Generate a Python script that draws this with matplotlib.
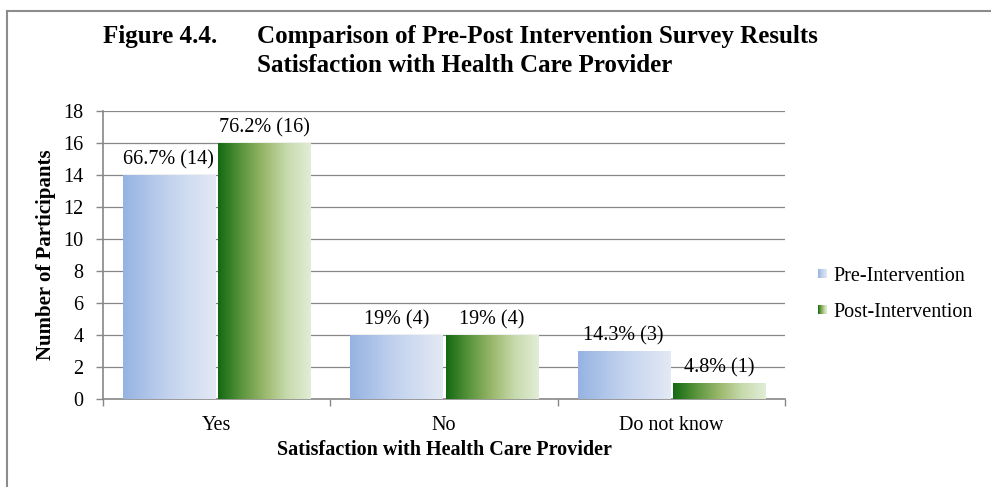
import numpy as np
import matplotlib
matplotlib.use("Agg")
import matplotlib.pyplot as plt
from matplotlib.colors import LinearSegmentedColormap
from matplotlib.lines import Line2D

# Veriler
categories = ["Yes", "No", "Do not know"]
pre_values = [14, 4, 3]
post_values = [16, 4, 1]
pre_labels = ["66.7% (14)", "19% (4)", "14.3% (3)"]
post_labels = ["76.2% (16)", "19% (4)", "4.8% (1)"]
series_names = ["Pre-Intervention", "Post-Intervention"]
y_ticks = [0, 2, 4, 6, 8, 10, 12, 14, 16, 18]

plt.rcParams["font.family"] = ["Liberation Serif", "DejaVu Serif"]

pre_cmap = LinearSegmentedColormap.from_list("pre", ["#95b3e2", "#c3d3ee", "#e3e9f5"])
post_cmap = LinearSegmentedColormap.from_list(
    "post", ["#136913", "#5a953c", "#9bb86c", "#c8dbae", "#e1edd6"])
grad = np.linspace(0, 1, 256).reshape(1, -1)

W, H = 991, 487
fig = plt.figure(figsize=(W / 100, H / 100), dpi=100)
ax = fig.add_axes([103 / W, 1 - 399 / H, 682 / W, 288 / H])

x = np.arange(len(categories))
width = 0.405
bars_pre = ax.bar(x - 0.21, pre_values, width, color="none", zorder=3)
bars_post = ax.bar(x + 0.21, post_values, width, color="none", zorder=3)

# Bar icine gradyan doldur
for bars, cmap in [(bars_pre, pre_cmap), (bars_post, post_cmap)]:
    for r in bars:
        x0, y0 = r.get_x(), r.get_y()
        ax.imshow(grad, cmap=cmap, aspect="auto", zorder=3,
                  extent=[x0, x0 + r.get_width(), y0, y0 + r.get_height()])

# Degerler
for bars, labels in [(bars_pre, pre_labels), (bars_post, post_labels)]:
    for r, lab in zip(bars, labels):
        ax.annotate(lab, (r.get_x() + r.get_width() / 2, r.get_height()),
                    xytext=(0, 4), textcoords="offset points",
                    ha="center", va="bottom", fontsize=14.5, zorder=4)

ax.set_xlim(-0.5, len(categories) - 0.5)
ax.set_ylim(0, 18)
ax.set_yticks(y_ticks)
ax.set_xticks(x)
ax.set_xticklabels(categories)
ax.set_xticks(np.arange(len(categories) + 1) - 0.5, minor=True)
ax.tick_params(axis="x", which="major", length=0, pad=12, labelsize=14.5)
ax.tick_params(axis="x", which="minor", length=5, width=1, color="#878787")
ax.tick_params(axis="y", length=5, width=1, color="#878787", pad=9, labelsize=14.5)

ax.grid(axis="y", color="#878787", linewidth=0.9, zorder=0)
ax.set_axisbelow(True)
for s in ["top", "right"]:
    ax.spines[s].set_visible(False)
for s in ["left", "bottom"]:
    ax.spines[s].set_color("#878787")
    ax.spines[s].set_linewidth(1.2)

ax.set_ylabel("Number of Participants", fontsize=15, fontweight="bold", labelpad=5)
ax.set_xlabel("Satisfaction with Health Care Provider", fontsize=14.5,
              fontweight="bold", labelpad=4)

# Baslik
fig.text(103 / W, 1 - 43 / H, "Figure 4.4.", fontsize=18, fontweight="bold",
         va="baseline", ha="left")
fig.text(257 / W, 1 - 43 / H, "Comparison of Pre-Post Intervention Survey Results",
         fontsize=18, fontweight="bold", va="baseline", ha="left")
fig.text(257 / W, 1 - 72 / H, "Satisfaction with Health Care Provider",
         fontsize=18, fontweight="bold", va="baseline", ha="left")

# Lejant (elle)
for i, (name, cmap) in enumerate(zip(series_names, [pre_cmap, post_cmap])):
    cy = 273.5 + i * 36
    lax = fig.add_axes([818 / W, 1 - (cy + 4.5) / H, 9 / W, 9 / H])
    lax.imshow(grad, cmap=cmap, aspect="auto")
    lax.axis("off")
    fig.text(833 / W, 1 - (cy + 7.5) / H, name, fontsize=14.5, va="baseline", ha="left")

# Cerceve
fig.add_artist(Line2D([6.5 / W, 1], [1 - 10.5 / H, 1 - 10.5 / H], color="#8c8c8c",
                      linewidth=1.5, transform=fig.transFigure))
fig.add_artist(Line2D([6.5 / W, 6.5 / W], [0, 1 - 10.5 / H], color="#8c8c8c",
                      linewidth=1.5, transform=fig.transFigure))

fig.savefig("out.png", dpi=100)
